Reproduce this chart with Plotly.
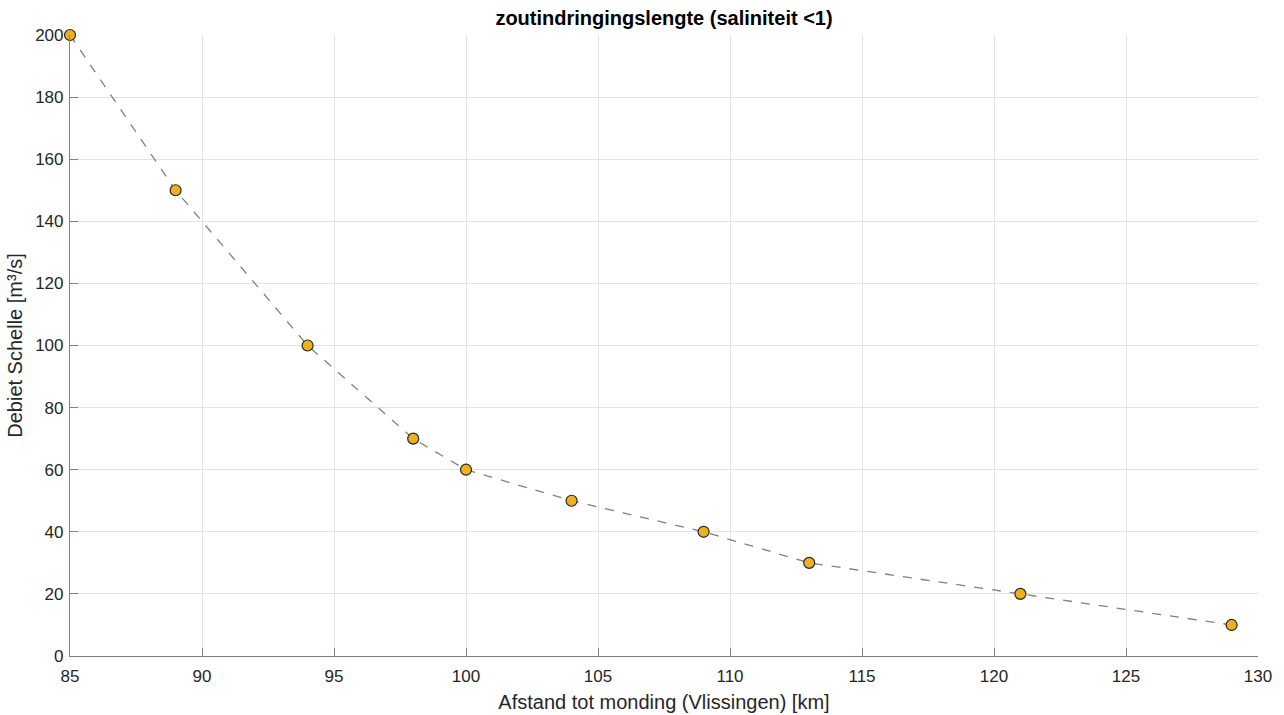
import plotly.graph_objects as go

afstand = [85, 89, 94, 98, 100, 104, 109, 113, 121, 129]
debiet = [200, 150, 100, 70, 60, 50, 40, 30, 20, 10]
x_ticks = [85, 90, 95, 100, 105, 110, 115, 120, 125, 130]
y_ticks = [0, 20, 40, 60, 80, 100, 120, 140, 160, 180, 200]

FONT = "Liberation Sans, Arial"

fig = go.Figure()
fig.add_trace(go.Scatter(
    x=afstand, y=debiet, mode="lines+markers",
    line=dict(color="#808080", width=1.3, dash="dash"),
    marker=dict(size=11, color="#EDB120", line=dict(color="#262626", width=1.2)),
    cliponaxis=False, showlegend=False,
))

axis_common = dict(
    showgrid=True, gridcolor="#E3E3E3", gridwidth=1,
    showline=True, linecolor="#808080", linewidth=1.2,
    ticks="inside", ticklen=8, tickcolor="#808080",
    tickfont=dict(family=FONT, size=17, color="#262626"),
    zeroline=False, mirror=False, automargin=False,
)

fig.update_layout(
    width=1284, height=715,
    margin=dict(l=70, r=26, t=35, b=59),
    paper_bgcolor="white", plot_bgcolor="white",
    title=dict(text="<b>zoutindringingslengte (saliniteit <1)</b>",
               x=0.5, xanchor="center", xref="paper", y=1 - 18/715, yanchor="middle",
               font=dict(family=FONT, size=20, color="black")),
    xaxis=dict(range=[85, 130], tickvals=x_ticks, ticklabelstandoff=4,
               title=dict(text="Afstand tot monding (Vlissingen) [km]", standoff=10,
                          font=dict(family=FONT, size=20, color="#262626")),
               **axis_common),
    yaxis=dict(range=[0, 200], tickvals=y_ticks, ticklabelstandoff=2,
               title=dict(text="Debiet Schelle [m³/s]", standoff=7,
                          font=dict(family=FONT, size=20, color="#262626")),
               **axis_common),
)

fig.write_html("out.html")
